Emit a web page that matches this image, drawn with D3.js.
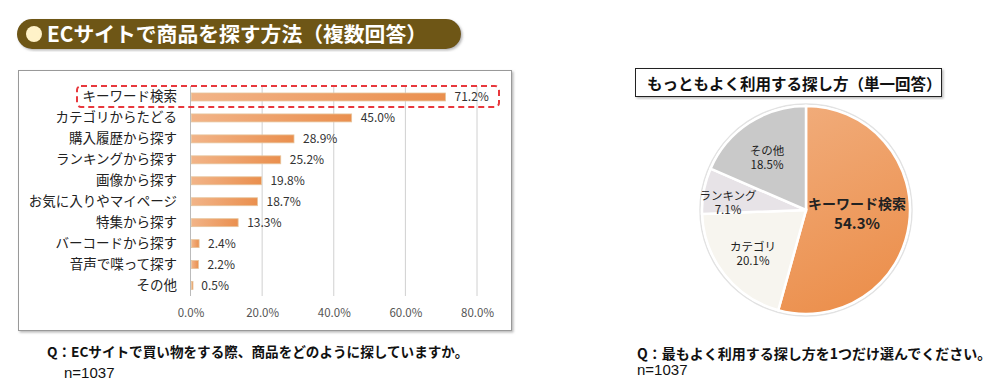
<!DOCTYPE html>
<html><head><meta charset="utf-8">
<script src="https://cdn.jsdelivr.net/npm/d3@7"></script>
<style>
body{margin:0;background:#fff;font-family:"Noto Sans CJK JP","Noto Sans",sans-serif;}
svg{display:block;}
</style></head><body>
<svg id="c" width="1000" height="388"></svg>
<script>
const barCategories = ["キーワード検索","カテゴリからたどる","購入履歴から探す","ランキングから探す","画像から探す","お気に入りやマイページ","特集から探す","バーコードから探す","音声で喋って探す","その他"];
const barValues = [71.2,45.0,28.9,25.2,19.8,18.7,13.3,2.4,2.2,0.5];
const xTicks = [0,20,40,60,80];
const pieCategories = ["キーワード検索","カテゴリ","ランキング","その他"];
const pieValues = [54.3,20.1,7.1,18.5];
const pieColors = ["url(#pieOrange)","#f7f5ef","#e7e3e7","#c9c9c9"];

const svg = d3.select("#c");
const font = '"Noto Sans CJK JP","Noto Sans",sans-serif';
const latin = '"Liberation Sans",Arial,sans-serif';
const defs = svg.append("defs");
const bg = defs.append("linearGradient").attr("id","barGrad").attr("x1","0").attr("x2","1").attr("y1","0").attr("y2","0");
bg.append("stop").attr("offset","0").attr("stop-color","#f2b488");
bg.append("stop").attr("offset","1").attr("stop-color","#ea8f4e");
const pg = defs.append("linearGradient").attr("id","pieOrange").attr("x1","0").attr("x2","0.3").attr("y1","0").attr("y2","1");
pg.append("stop").attr("offset","0").attr("stop-color","#f1ad7c");
pg.append("stop").attr("offset","1").attr("stop-color","#ec914f");
const sh = defs.append("filter").attr("id","shadow").attr("x","-5%").attr("y","-5%").attr("width","110%").attr("height","115%");
sh.append("feDropShadow").attr("dx",1.5).attr("dy",1.5).attr("stdDeviation",1).attr("flood-color","#888").attr("flood-opacity",0.6);

// Title bar
svg.append("rect").attr("x",17).attr("y",19).attr("width",444).attr("height",30).attr("rx",15)
  .attr("fill","#6e5612").attr("filter","url(#shadow)");
svg.append("circle").attr("cx",34).attr("cy",34).attr("r",8).attr("fill","#fff2c8");
svg.append("text").attr("x",47).attr("y",42).attr("fill","#fff").attr("font-size",20.8).attr("font-weight","bold")
  .attr("font-family",font).text("ECサイトで商品を探す方法（複数回答）");

// Bar chart box
svg.append("rect").attr("x",18.5).attr("y",70.5).attr("width",493).attr("height",260)
  .attr("fill","#fff").attr("stroke","#999").attr("stroke-width",1).attr("filter","url(#shadow)");

const x = d3.scaleLinear().domain([0,80]).range([190.5,477]);
const y = d3.scaleBand().domain(barCategories).range([86.5,296]).paddingInner(0.62).paddingOuter(0.31);

// grid
svg.append("g").selectAll("line").data(xTicks).join("line")
  .attr("x1",d=>x(d)).attr("x2",d=>x(d)).attr("y1",86).attr("y2",296)
  .attr("stroke",d=>d===0?"#bbb":"#d0d0d0").attr("stroke-width",1);

const xAxis = svg.append("g").attr("transform","translate(0,306)")
  .call(d3.axisBottom(x).tickValues(xTicks).tickSize(0).tickFormat(d=>d.toFixed(1)+"%"));
xAxis.select(".domain").remove();
xAxis.selectAll("text").attr("font-size",11.5).attr("fill","#555").attr("font-family",font);

const yAxis = svg.append("g").attr("transform","translate(181,0)")
  .call(d3.axisLeft(y).tickSize(0).tickPadding(4));
yAxis.select(".domain").remove();
yAxis.selectAll("text").attr("font-size",13.5).attr("fill","#222").attr("font-family",font);

svg.append("g").selectAll("rect").data(barValues).join("rect")
  .attr("x",x(0)+1).attr("y",(d,i)=>y(barCategories[i]))
  .attr("width",d=>Math.max(x(d)-x(0)-1,1.5)).attr("height",y.bandwidth())
  .attr("fill","url(#barGrad)").attr("stroke","#e7c49c").attr("stroke-width",0.8);

svg.append("g").selectAll("text").data(barValues).join("text")
  .attr("x",d=>x(d)+9).attr("y",(d,i)=>y(barCategories[i])+y.bandwidth()/2)
  .attr("dy","0.35em").attr("font-size",12).attr("fill","#333").attr("font-family",font)
  .text(d=>d.toFixed(1)+"%");

// highlight dashed box
svg.append("rect").attr("x",77).attr("y",86).attr("width",422).attr("height",21).attr("rx",4)
  .attr("fill","none").attr("stroke","#e8383d").attr("stroke-width",2).attr("stroke-dasharray","6,4");

// footers left
svg.append("text").attr("x",47).attr("y",357).attr("font-size",13.6).attr("font-weight","bold").attr("fill","#111")
  .attr("font-family",font).text("Q：ECサイトで買い物をする際、商品をどのように探していますか。");
svg.append("text").attr("x",64).attr("y",378).attr("font-size",15).attr("fill","#111")
  .attr("font-family",latin).text("n=1037");

// Pie title box
svg.append("rect").attr("x",635.5).attr("y",68.5).attr("width",306).attr("height",28)
  .attr("fill","#fff").attr("stroke","#222").attr("stroke-width",1).attr("filter","url(#shadow)");
svg.append("text").attr("x",647).attr("y",90).attr("font-size",15.5).attr("font-weight","bold").attr("fill","#111")
  .attr("font-family",font).text("もっともよく利用する探し方（単一回答）");

// Pie
const cx = 806, cy = 210, R = 104;
const pie = d3.pie().sort(null).value(d=>d);
const arcs = pie(pieValues);
const arc = d3.arc().innerRadius(0).outerRadius(R);
const pg2 = svg.append("g").attr("transform",`translate(${cx},${cy})`);
pg2.append("circle").attr("r",R+2).attr("fill","#fff").attr("stroke","#e2e2e2").attr("stroke-width",1.5);
pg2.selectAll("path").data(arcs).join("path")
  .attr("d",arc).attr("fill",(d,i)=>pieColors[i]).attr("stroke","#fff").attr("stroke-width",2.5);

const labelPos = [[51,2],[-53,44],[-78,-7],[-39,-52]];
const labelSizes = [14,11.5,11.5,11.5];
const pl = pg2.selectAll("g.lbl").data(arcs).join("g").attr("class","lbl")
  .attr("transform",(d,i)=>`translate(${labelPos[i][0]},${labelPos[i][1]})`);
pl.append("text").attr("text-anchor","middle").attr("y",-3)
  .attr("font-size",(d,i)=>labelSizes[i]).attr("font-weight",(d,i)=>i===0?"bold":"normal")
  .attr("fill","#222").attr("font-family",font).text((d,i)=>pieCategories[i]);
pl.append("text").attr("text-anchor","middle").attr("y",(d,i)=>i===0?17:11)
  .attr("font-size",(d,i)=>i===0?15:11.5).attr("font-weight",(d,i)=>i===0?"bold":"normal")
  .attr("fill","#222").attr("font-family",font).text((d,i)=>pieValues[i].toFixed(1)+"%");

// footers right
svg.append("text").attr("x",637).attr("y",359).attr("font-size",14).attr("font-weight","bold").attr("fill","#111")
  .attr("font-family",font).text("Q：最もよく利用する探し方を1つだけ選んでください。");
svg.append("text").attr("x",637).attr("y",375).attr("font-size",15).attr("fill","#111")
  .attr("font-family",latin).text("n=1037");
</script>
</body></html>
